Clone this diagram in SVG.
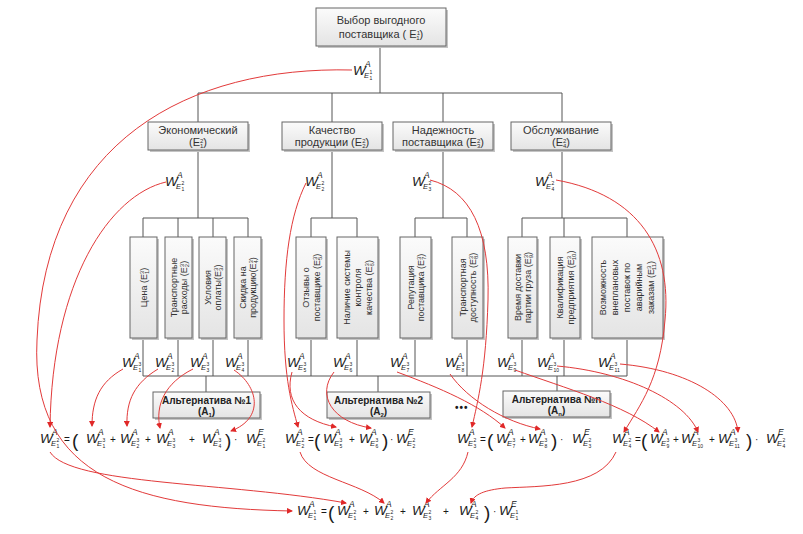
<svg xmlns="http://www.w3.org/2000/svg" width="803" height="534" viewBox="0 0 803 534">
<style>
.bx{fill:url(#gb);stroke:#666;stroke-width:1}
.sh{fill:#c4c4c4}
.t{font-family:"Liberation Sans",Arial,sans-serif;font-size:11px;fill:#333;text-anchor:middle}
.tv{font-size:9px}
.ta{font-weight:bold;fill:#222;font-size:10px}
.s{font-size:6px}
.ln{stroke:#555;stroke-width:1;fill:none}
.rc{stroke:#e23a3a;stroke-width:1;fill:none;marker-end:url(#ah)}
.w{font-family:"Liberation Sans",Arial,sans-serif;font-style:italic;fill:#1a1a1a}
.wW{font-size:13.5px}
.wS{font-size:8.5px}
.wE{font-size:7.5px}
.wi{font-family:"Liberation Sans",Arial,sans-serif;font-size:5px;fill:#1a1a1a}
.op{font-family:"Liberation Sans",Arial,sans-serif;font-size:10px;fill:#1a1a1a}
.pr{font-family:"Liberation Sans",Arial,sans-serif;font-size:19px;fill:#1a1a1a}
</style>
<defs>
<linearGradient id="gb" x1="0" y1="0" x2="0" y2="1"><stop offset="0" stop-color="#fbfbfb"/><stop offset="1" stop-color="#e4e4e4"/></linearGradient>
<marker id="ah" markerWidth="6" markerHeight="6" refX="5" refY="3" orient="auto" markerUnits="userSpaceOnUse"><path d="M0,0 L6,3 L0,6 z" fill="#e02828"/></marker>
<g id="WA" class="w"><text class="wW" x="0" y="0">W</text><text class="wS" x="12" y="-8">A</text><text class="wE" x="11" y="3">E</text></g>
<g id="WE" class="w"><text class="wW" x="0" y="0">W</text><text class="wS" x="12" y="-8">E</text><text class="wE" x="11" y="3">E</text></g>
</defs>
<rect width="803" height="534" fill="#fff"/>

<g id="connectors">
<path class="ln" d="M380,46 V93 M198,93 H562 M198,93 V122 M332,93 V122 M443,93 V122 M562,93 V122"/>
<path class="ln" d="M198,150 V218 M332,150 V218 M443,150 V218 M562,150 V218"/>
<path class="ln" d="M143,218 H248 M143,218 V237 M178,218 V237 M213,218 V237 M248,218 V237"/>
<path class="ln" d="M311,218 H357 M311,218 V237 M357,218 V237"/>
<path class="ln" d="M415,218 H467 M415,218 V237 M467,218 V237"/>
<path class="ln" d="M522,218 H627 M522,218 V237 M564,218 V237 M627,218 V237"/>
<path class="ln" d="M143,338 V376 M178,338 V376 M213,338 V376 M248,338 V376 M311,338 V376 M357,338 V376 M415,338 V376 M467,338 V376 M522,338 V376 M564,338 V376 M627,338 V376 M143,376 H627"/>
<path class="ln" d="M206,376 V392 M378,376 V392 M557,376 V391"/>
</g>

<g id="n-top"><rect class="sh" x="318" y="10" width="130" height="38"/><rect class="bx" x="316" y="8" width="130" height="38"/>
<text class="t" x="381" y="24">Выбор выгодного</text>
<text class="t" x="381" y="38">поставщика ( E<tspan class="s" dy="-3">1</tspan><tspan class="s" dx="-3.3" dy="5">1</tspan><tspan dy="-2">)</tspan></text></g>

<g id="n-e21"><rect class="sh" x="150" y="124" width="100" height="28"/><rect class="bx" x="148" y="122" width="100" height="28"/>
<text class="t" x="198" y="134">Экономический</text>
<text class="t" x="198" y="146">(E<tspan class="s" dy="-3">2</tspan><tspan class="s" dx="-3.3" dy="5">1</tspan><tspan dy="-2">)</tspan></text></g>
<g id="n-e22"><rect class="sh" x="284" y="124" width="100" height="28"/><rect class="bx" x="282" y="122" width="100" height="28"/>
<text class="t" x="332" y="134">Качество</text>
<text class="t" x="332" y="146">продукции (E<tspan class="s" dy="-3">2</tspan><tspan class="s" dx="-3.3" dy="5">2</tspan><tspan dy="-2">)</tspan></text></g>
<g id="n-e23"><rect class="sh" x="395" y="124" width="100" height="28"/><rect class="bx" x="393" y="122" width="100" height="28"/>
<text class="t" x="443" y="134">Надежность</text>
<text class="t" x="443" y="146">поставщика (E<tspan class="s" dy="-3">2</tspan><tspan class="s" dx="-3.3" dy="5">3</tspan><tspan dy="-2">)</tspan></text></g>
<g id="n-e24"><rect class="sh" x="513" y="124" width="100" height="28"/><rect class="bx" x="511" y="122" width="100" height="28"/>
<text class="t" x="561" y="134">Обслуживание</text>
<text class="t" x="561" y="146">(E<tspan class="s" dy="-3">2</tspan><tspan class="s" dx="-3.3" dy="5">4</tspan><tspan dy="-2">)</tspan></text></g>

<g id="n-e31"><rect class="sh" x="132" y="239" width="27" height="101"/><rect class="bx" x="130" y="237" width="27" height="101"/>
<text class="t tv" transform="translate(143.5,287.5) rotate(-90)"><tspan x="0" y="3">Цена (E<tspan class="s" dy="-3">3</tspan><tspan class="s" dx="-3.3" dy="5">1</tspan><tspan dy="-2">)</tspan></tspan></text></g>
<g id="n-e32"><rect class="sh" x="167" y="239" width="27" height="101"/><rect class="bx" x="165" y="237" width="27" height="101"/>
<text class="t tv" transform="translate(178.5,287.5) rotate(-90)"><tspan x="0" y="-2">Транспортные</tspan><tspan x="0" y="8.5">расходы (E<tspan class="s" dy="-3">3</tspan><tspan class="s" dx="-3.3" dy="5">2</tspan><tspan dy="-2">)</tspan></tspan></text></g>
<g id="n-e33"><rect class="sh" x="201" y="239" width="27" height="101"/><rect class="bx" x="199" y="237" width="27" height="101"/>
<text class="t tv" transform="translate(212.5,287.5) rotate(-90)"><tspan x="0" y="-2">Условия</tspan><tspan x="0" y="8.5">оплаты(E<tspan class="s" dy="-3">3</tspan><tspan class="s" dx="-3.3" dy="5">3</tspan><tspan dy="-2">)</tspan></tspan></text></g>
<g id="n-e34"><rect class="sh" x="236" y="239" width="27" height="101"/><rect class="bx" x="234" y="237" width="27" height="101"/>
<text class="t tv" transform="translate(247.5,287.5) rotate(-90)"><tspan x="0" y="-2">Скидка на</tspan><tspan x="0" y="8.5">продукцию(E<tspan class="s" dy="-3">3</tspan><tspan class="s" dx="-3.3" dy="5">4</tspan><tspan dy="-2">)</tspan></tspan></text></g>

<g id="n-e35"><rect class="sh" x="298" y="239" width="30" height="101"/><rect class="bx" x="296" y="237" width="30" height="101"/>
<text class="t tv" transform="translate(311,287.5) rotate(-90)"><tspan x="0" y="-2">Отзывы о</tspan><tspan x="0" y="8.5">поставщике (E<tspan class="s" dy="-3">3</tspan><tspan class="s" dx="-3.3" dy="5">5</tspan><tspan dy="-2">)</tspan></tspan></text></g>
<g id="n-e36"><rect class="sh" x="339" y="239" width="41" height="101"/><rect class="bx" x="337" y="237" width="41" height="101"/>
<text class="t tv" transform="translate(357.5,287.5) rotate(-90)"><tspan x="0" y="-8">Наличие системы</tspan><tspan x="0" y="3">контроля</tspan><tspan x="0" y="14">качества (E<tspan class="s" dy="-3">3</tspan><tspan class="s" dx="-3.3" dy="5">6</tspan><tspan dy="-2">)</tspan></tspan></text></g>

<g id="n-e37"><rect class="sh" x="402" y="239" width="31" height="101"/><rect class="bx" x="400" y="237" width="31" height="101"/>
<text class="t tv" transform="translate(415.5,287.5) rotate(-90)"><tspan x="0" y="-2">Репутация</tspan><tspan x="0" y="8.5">поставщика (E<tspan class="s" dy="-3">3</tspan><tspan class="s" dx="-3.3" dy="5">7</tspan><tspan dy="-2">)</tspan></tspan></text></g>
<g id="n-e38"><rect class="sh" x="454" y="239" width="31" height="101"/><rect class="bx" x="452" y="237" width="31" height="101"/>
<text class="t tv" transform="translate(467.5,287.5) rotate(-90)"><tspan x="0" y="-2">Транспортная</tspan><tspan x="0" y="8.5">доступность (E<tspan class="s" dy="-3">3</tspan><tspan class="s" dx="-3.3" dy="5">8</tspan><tspan dy="-2">)</tspan></tspan></text></g>

<g id="n-e39"><rect class="sh" x="510" y="239" width="29" height="101"/><rect class="bx" x="508" y="237" width="29" height="101"/>
<text class="t tv" transform="translate(522.5,287.5) rotate(-90)"><tspan x="0" y="-2">Время доставки</tspan><tspan x="0" y="8.5">партии груза (E<tspan class="s" dy="-3">3</tspan><tspan class="s" dx="-3.3" dy="5">9</tspan><tspan dy="-2">)</tspan></tspan></text></g>
<g id="n-e310"><rect class="sh" x="552" y="239" width="30" height="101"/><rect class="bx" x="550" y="237" width="30" height="101"/>
<text class="t tv" transform="translate(565,287.5) rotate(-90)"><tspan x="0" y="-2">Квалификация</tspan><tspan x="0" y="8.5">предприятия (E<tspan class="s" dy="-3">3</tspan><tspan class="s" dx="-4.5" dy="5">10</tspan><tspan dy="-2">)</tspan></tspan></text></g>
<g id="n-e311"><rect class="sh" x="594" y="239" width="71" height="101"/><rect class="bx" x="592" y="237" width="71" height="101"/>
<text class="t tv" transform="translate(627.5,287.5) rotate(-90)"><tspan x="0" y="-22">Возможность</tspan><tspan x="0" y="-10">внеплановых</tspan><tspan x="0" y="2">поставок по</tspan><tspan x="0" y="14">аварийным</tspan><tspan x="0" y="26">заказам (E<tspan class="s" dy="-3">3</tspan><tspan class="s" dx="-4.5" dy="5">11</tspan><tspan dy="-2">)</tspan></tspan></text></g>

<g id="n-a1"><rect class="sh" x="155" y="394" width="107" height="26"/><rect class="bx" x="153" y="392" width="107" height="26"/>
<text class="t ta" x="206.5" y="404">Альтернатива №1</text><text class="t ta" x="206.5" y="415">(A<tspan class="s" dy="2">1</tspan><tspan dy="-2">)</tspan></text></g>
<g id="n-a2"><rect class="sh" x="329" y="394" width="103" height="26"/><rect class="bx" x="327" y="392" width="103" height="26"/>
<text class="t ta" x="378.5" y="404">Альтернатива №2</text><text class="t ta" x="378.5" y="415">(A<tspan class="s" dy="2">2</tspan><tspan dy="-2">)</tspan></text></g>
<g id="n-an"><rect class="sh" x="505" y="393" width="107" height="26"/><rect class="bx" x="503" y="391" width="107" height="26"/>
<text class="t ta" x="556.5" y="403">Альтернатива №n</text><text class="t ta" x="556.5" y="414">(A<tspan class="s" dy="2">n</tspan><tspan dy="-2">)</tspan></text></g>
<text class="op" x="455" y="411" style="font-weight:bold;letter-spacing:1px">•••</text>

<g id="weights">
<g transform="translate(353,75)"><use href="#WA"/><text class="wi" x="16.5" y="-1">1</text><text class="wi" x="16.5" y="5">1</text></g>
<g transform="translate(165,186)"><use href="#WA"/><text class="wi" x="16.5" y="-1">2</text><text class="wi" x="16.5" y="5">1</text></g>
<g transform="translate(305,186)"><use href="#WA"/><text class="wi" x="16.5" y="-1">2</text><text class="wi" x="16.5" y="5">2</text></g>
<g transform="translate(412,186)"><use href="#WA"/><text class="wi" x="16.5" y="-1">2</text><text class="wi" x="16.5" y="5">3</text></g>
<g transform="translate(535,186)"><use href="#WA"/><text class="wi" x="16.5" y="-1">2</text><text class="wi" x="16.5" y="5">4</text></g>
<g transform="translate(122,367)"><use href="#WA"/><text class="wi" x="16.5" y="-1">3</text><text class="wi" x="16.5" y="5">1</text></g>
<g transform="translate(155,367)"><use href="#WA"/><text class="wi" x="16.5" y="-1">3</text><text class="wi" x="16.5" y="5">2</text></g>
<g transform="translate(190,367)"><use href="#WA"/><text class="wi" x="16.5" y="-1">3</text><text class="wi" x="16.5" y="5">3</text></g>
<g transform="translate(225,367)"><use href="#WA"/><text class="wi" x="16.5" y="-1">3</text><text class="wi" x="16.5" y="5">4</text></g>
<g transform="translate(287,367)"><use href="#WA"/><text class="wi" x="16.5" y="-1">3</text><text class="wi" x="16.5" y="5">5</text></g>
<g transform="translate(333,367)"><use href="#WA"/><text class="wi" x="16.5" y="-1">3</text><text class="wi" x="16.5" y="5">6</text></g>
<g transform="translate(390,367)"><use href="#WA"/><text class="wi" x="16.5" y="-1">3</text><text class="wi" x="16.5" y="5">7</text></g>
<g transform="translate(445,367)"><use href="#WA"/><text class="wi" x="16.5" y="-1">3</text><text class="wi" x="16.5" y="5">8</text></g>
<g transform="translate(497,367)"><use href="#WA"/><text class="wi" x="16.5" y="-1">3</text><text class="wi" x="16.5" y="5">9</text></g>
<g transform="translate(537,367)"><use href="#WA"/><text class="wi" x="16.5" y="-1">3</text><text class="wi" x="16.5" y="5">10</text></g>
<g transform="translate(598,367)"><use href="#WA"/><text class="wi" x="16.5" y="-1">3</text><text class="wi" x="16.5" y="5">11</text></g>
</g>

<g id="formulas">
<g transform="translate(40,443)"><use href="#WA"/><text class="wi" x="16.5" y="-1">2</text><text class="wi" x="16.5" y="5">1</text></g>
<text class="op" x="64" y="443">=</text><text class="pr" x="72" y="447">(</text>
<g transform="translate(86,443)"><use href="#WA"/><text class="wi" x="16.5" y="-1">3</text><text class="wi" x="16.5" y="5">1</text></g>
<text class="op" x="110" y="443">+</text>
<g transform="translate(120,443)"><use href="#WA"/><text class="wi" x="16.5" y="-1">3</text><text class="wi" x="16.5" y="5">2</text></g>
<text class="op" x="145" y="443">+</text>
<g transform="translate(156,443)"><use href="#WA"/><text class="wi" x="16.5" y="-1">3</text><text class="wi" x="16.5" y="5">3</text></g>
<text class="op" x="189" y="443">+</text>
<g transform="translate(202,443)"><use href="#WA"/><text class="wi" x="16.5" y="-1">3</text><text class="wi" x="16.5" y="5">4</text></g>
<text class="pr" x="225" y="447">)</text><text class="op" x="234" y="443">·</text>
<g transform="translate(246,443)"><use href="#WE"/><text class="wi" x="16.5" y="-1">2</text><text class="wi" x="16.5" y="5">1</text></g>

<g transform="translate(285,443)"><use href="#WA"/><text class="wi" x="16.5" y="-1">2</text><text class="wi" x="16.5" y="5">2</text></g>
<text class="op" x="308" y="443">=</text><text class="pr" x="314" y="447">(</text>
<g transform="translate(323,443)"><use href="#WA"/><text class="wi" x="16.5" y="-1">3</text><text class="wi" x="16.5" y="5">5</text></g>
<text class="op" x="349" y="443">+</text>
<g transform="translate(359,443)"><use href="#WA"/><text class="wi" x="16.5" y="-1">3</text><text class="wi" x="16.5" y="5">6</text></g>
<text class="pr" x="382" y="447">)</text><text class="op" x="390" y="443">·</text>
<g transform="translate(396,443)"><use href="#WE"/><text class="wi" x="16.5" y="-1">2</text><text class="wi" x="16.5" y="5">2</text></g>

<g transform="translate(457,443)"><use href="#WA"/><text class="wi" x="16.5" y="-1">2</text><text class="wi" x="16.5" y="5">3</text></g>
<text class="op" x="480" y="443">=</text><text class="pr" x="487" y="447">(</text>
<g transform="translate(496,443)"><use href="#WA"/><text class="wi" x="16.5" y="-1">3</text><text class="wi" x="16.5" y="5">7</text></g>
<text class="op" x="520" y="443">+</text>
<g transform="translate(528,443)"><use href="#WA"/><text class="wi" x="16.5" y="-1">3</text><text class="wi" x="16.5" y="5">8</text></g>
<text class="pr" x="551" y="447">)</text><text class="op" x="560" y="443">·</text>
<g transform="translate(572,443)"><use href="#WE"/><text class="wi" x="16.5" y="-1">2</text><text class="wi" x="16.5" y="5">3</text></g>

<g transform="translate(612,443)"><use href="#WA"/><text class="wi" x="16.5" y="-1">2</text><text class="wi" x="16.5" y="5">4</text></g>
<text class="op" x="635" y="443">=</text><text class="pr" x="641" y="447">(</text>
<g transform="translate(650,443)"><use href="#WA"/><text class="wi" x="16.5" y="-1">3</text><text class="wi" x="16.5" y="5">9</text></g>
<text class="op" x="673" y="443">+</text>
<g transform="translate(681,443)"><use href="#WA"/><text class="wi" x="16.5" y="-1">3</text><text class="wi" x="16.5" y="5">10</text></g>
<text class="op" x="709" y="443">+</text>
<g transform="translate(718,443)"><use href="#WA"/><text class="wi" x="16.5" y="-1">3</text><text class="wi" x="16.5" y="5">11</text></g>
<text class="pr" x="746" y="447">)</text><text class="op" x="755" y="443">·</text>
<g transform="translate(766,443)"><use href="#WE"/><text class="wi" x="16.5" y="-1">2</text><text class="wi" x="16.5" y="5">4</text></g>

<g transform="translate(297,515)"><use href="#WA"/><text class="wi" x="16.5" y="-1">1</text><text class="wi" x="16.5" y="5">1</text></g>
<text class="op" x="321" y="515">=</text><text class="pr" x="328" y="519">(</text>
<g transform="translate(337,515)"><use href="#WA"/><text class="wi" x="16.5" y="-1">2</text><text class="wi" x="16.5" y="5">1</text></g>
<text class="op" x="363" y="515">+</text>
<g transform="translate(374,515)"><use href="#WA"/><text class="wi" x="16.5" y="-1">2</text><text class="wi" x="16.5" y="5">2</text></g>
<text class="op" x="400" y="515">+</text>
<g transform="translate(412,515)"><use href="#WA"/><text class="wi" x="16.5" y="-1">2</text><text class="wi" x="16.5" y="5">3</text></g>
<text class="op" x="443" y="515">+</text>
<g transform="translate(459,515)"><use href="#WA"/><text class="wi" x="16.5" y="-1">2</text><text class="wi" x="16.5" y="5">4</text></g>
<text class="pr" x="484" y="519">)</text><text class="op" x="493" y="515">·</text>
<g transform="translate(499,515)"><use href="#WE"/><text class="wi" x="16.5" y="-1">1</text><text class="wi" x="16.5" y="5">1</text></g>
</g>

<g id="weight-arrows">
<path class="rc" d="M352,70 C190,66 45,140 37,340 C30,480 140,508 292,511"/>
<path class="rc" d="M166,182 C110,195 52,280 50,427"/>
<path class="rc" d="M123,369 C100,382 92,400 92,426"/>
<path class="rc" d="M158,369 C135,383 126,400 127,426"/>
<path class="rc" d="M193,369 C165,383 155,405 160,428"/>
<path class="rc" d="M234,370 C258,386 265,418 231,431"/>
<path class="rc" d="M306,183 C290,215 284,260 284,320 C284,380 292,405 298,427"/>
<path class="rc" d="M292,372 C284,400 300,420 336,427"/>
<path class="rc" d="M334,372 C316,395 332,422 371,428"/>
<path class="rc" d="M430,180 C470,190 490,230 488,300 C486,370 478,400 472,427"/>
<path class="rc" d="M397,372 C440,388 480,405 505,428"/>
<path class="rc" d="M450,374 C468,400 505,422 540,429"/>
<path class="rc" d="M556,180 C640,195 672,250 665,320 C660,380 640,405 624,432"/>
<path class="rc" d="M515,370 C565,388 625,405 659,432"/>
<path class="rc" d="M557,366 C625,372 685,400 698,432"/>
<path class="rc" d="M620,364 C690,370 735,400 738,432"/>
<path class="rc" d="M50,452 C70,485 230,482 346,503"/>
<path class="rc" d="M300,452 C308,478 360,482 384,503"/>
<path class="rc" d="M468,452 C462,478 440,485 426,503"/>
<path class="rc" d="M616,452 C600,488 540,486 505,488 C485,490 474,494 471,503"/>
</g>
</svg>
